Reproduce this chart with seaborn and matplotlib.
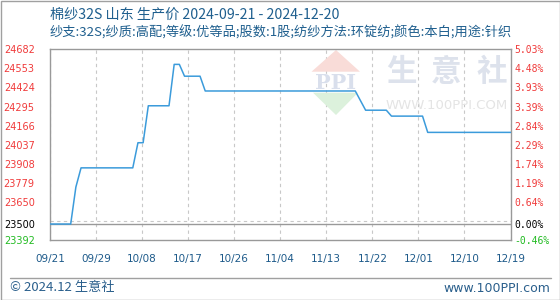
import numpy as np
import pandas as pd
import matplotlib
matplotlib.use("Agg")
import matplotlib.pyplot as plt
import seaborn as sns
from matplotlib.patches import Polygon, Rectangle
from matplotlib.lines import Line2D

# ---------------- data ----------------
title = "棉纱32S 山东 生产价 2024-09-21 - 2024-12-20"
subtitle = "纱支:32S;纱质:高配;等级:优等品;股数:1股;纺纱方法:环锭纺;颜色:本白;用途:针织"

dates = ["2024-09-21", "2024-09-25", "2024-09-26", "2024-09-27", "2024-10-07",
         "2024-10-08", "2024-10-09", "2024-10-10", "2024-10-14", "2024-10-15",
         "2024-10-16", "2024-10-17", "2024-10-20", "2024-10-21", "2024-11-19",
         "2024-11-21", "2024-11-25", "2024-11-26", "2024-12-02", "2024-12-03",
         "2024-12-20"]
prices = [23500, 23500, 23750, 23880, 23880,
          24050, 24050, 24300, 24300, 24580,
          24580, 24500, 24500, 24400, 24400,
          24270, 24270, 24230, 24230, 24120,
          24120]

x_start, x_end = "2024-09-21", "2024-12-19"
x_tick_labels = ["09/21", "09/29", "10/08", "10/17", "10/26", "11/04",
                 "11/13", "11/22", "12/01", "12/10", "12/19"]

y_min, y_max = 23392, 24682
base_price = 23500
y_grid = [23521, 23650, 23779, 23908, 24037, 24166, 24295, 24424, 24553, 24682]
y_label_vals = [24682, 24553, 24424, 24295, 24166, 24037, 23908, 23779, 23650, 23500, 23392]
y_left_labels = ["24682", "24553", "24424", "24295", "24166", "24037",
                 "23908", "23779", "23650", "23500", "23392"]
y_right_labels = ["5.03%", "4.48%", "3.93%", "3.39%", "2.84%", "2.29%",
                  "1.74%", "1.19%", "0.64%", "0.00%", "-0.46%"]

footer_left = "© 2024.12 生意社"
footer_right = "www.100PPI.com"

# ---------------- style ----------------
sns.set_style("white")
plt.rcParams['font.family'] = ['DejaVu Sans']
cjk = ['Noto Sans CJK SC', 'DejaVu Sans']

W, H = 560, 300
fig = plt.figure(figsize=(W / 100, H / 100), dpi=100)
fig.patch.set_facecolor("white")

def P(x, y):
    return (x / W, 1 - y / H)

L, R, T, B = 50, 510.5, 49.3, 240
ax = fig.add_axes([L / W, 1 - B / H, (R - L) / W, (B - T) / H])
ax.set_facecolor("white")

df = pd.DataFrame({"date": pd.to_datetime(dates), "price": prices})
sns.lineplot(data=df, x="date", y="price", ax=ax, color="#3b9bdb", linewidth=1.1, zorder=3)

ax.set_xlim(pd.Timestamp(x_start), pd.Timestamp(x_end))
ax.set_ylim(y_min, y_max)
ax.set_xlabel("")
ax.set_ylabel("")

xt = pd.date_range(x_start, x_end, periods=len(x_tick_labels))
ax.set_xticks(xt)
ax.set_xticklabels(x_tick_labels)
ax.tick_params(axis="x", length=0, pad=10, labelsize=7.5, labelcolor="#1d5a8a")
ax.grid(axis="x", which="major", linestyle=(0, (3, 3)), color="#c8c8c8", linewidth=0.8)

ax.set_yticks(y_label_vals)
ax.set_yticklabels(y_left_labels)
ax.set_yticks(y_grid, minor=True)
ax.grid(axis="y", which="major", visible=False)
ax.grid(axis="y", which="minor", linestyle=(0, (3, 3)), color="#c8c8c8", linewidth=0.8)
ax.tick_params(axis="y", which="both", length=0, pad=11, labelsize=7)
ax.set_axisbelow(True)
left_colors = ["#f03a3a"] * 9 + ["#000000", "#22bb22"]
for lab, c in zip(ax.get_yticklabels(), left_colors):
    lab.set_color(c)

ax.axhline(base_price, color="#999999", linewidth=1.0, zorder=2)

for s in ax.spines.values():
    s.set_color("#999999")
    s.set_linewidth(1.0)

ax2 = ax.twinx()
ax2.set_ylim(y_min, y_max)
ax2.set_yticks(y_label_vals)
ax2.set_yticklabels(y_right_labels, family="DejaVu Sans Mono")
ax2.tick_params(axis="y", length=0, pad=3, labelsize=7)
for lab, c in zip(ax2.get_yticklabels(), left_colors):
    lab.set_color(c)
for s in ax2.spines.values():
    s.set_visible(False)
ax2.grid(False)

# ---------------- watermark ----------------
ax.add_patch(Polygon([P(336, 50), P(311.5, 71.7), P(360, 71.7)], closed=True,
                     transform=fig.transFigure, facecolor="#f9dcd8", edgecolor="none", zorder=1))
ax.add_patch(Polygon([P(313, 92.7), P(358, 92.7), P(336, 115)], closed=True,
                     transform=fig.transFigure, facecolor="#dcf1dc", edgecolor="none", zorder=1))
ax.text(*P(335.5, 83), "PPI", transform=fig.transFigure, ha="center", va="center",
        fontsize=15, fontweight="bold", family="DejaVu Serif", color="#d9dfec", zorder=1)
for cx, ch in zip([401, 446, 491.5], "生意社"):
    ax.text(*P(cx, 72), ch, transform=fig.transFigure, ha="center", va="center",
            fontsize=22, fontweight="bold", family=cjk, color="#dde2ec", zorder=1)
ax.text(*P(446.5, 106), "WWW.100PPI.COM", transform=fig.transFigure, ha="center", va="center",
        fontsize=9.5, color="#e4e4e4", zorder=1)

# ---------------- titles & footer ----------------
fig.text(*P(50, 15), title, ha="left", va="center", fontsize=10.2, family=cjk, color="#1f5f8e")
fig.text(*P(50, 33), subtitle, ha="left", va="center", fontsize=9.5, family=cjk, color="#1f5f8e")
fig.text(*P(10, 288), footer_left, ha="left", va="center", fontsize=9.5, family=cjk, color="#2a5f8c")
fig.text(*P(550, 288), footer_right, ha="right", va="center", fontsize=9, color="#2a5f8c")

fig.lines.append(Line2D([10 / W, 551 / W], [1 - 277.5 / H] * 2, transform=fig.transFigure,
                        color="#a0a0a0", linewidth=1))
fig.patches.append(Rectangle((0.5 / W, 0.5 / H), 1 - 1 / W, 1 - 1 / H, transform=fig.transFigure,
                             fill=False, edgecolor="#a0a0a0", linewidth=1))

fig.savefig("out.png", dpi=100)
